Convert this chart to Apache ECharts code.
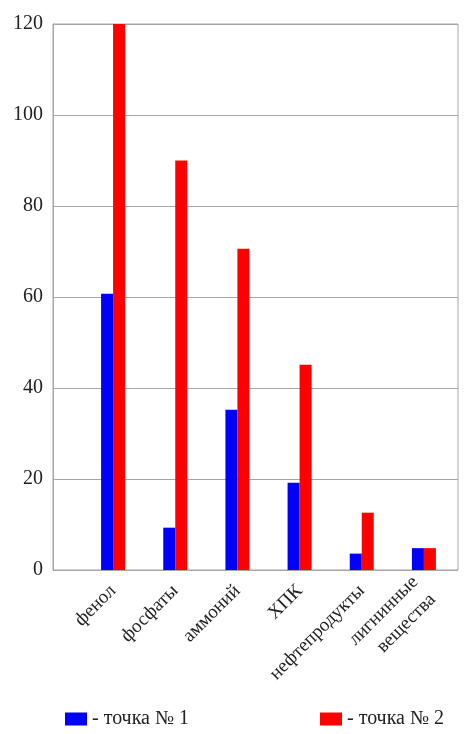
<!DOCTYPE html>
<html>
<head>
<meta charset="utf-8">
<script src="https://cdn.jsdelivr.net/npm/echarts@6/dist/echarts.min.js"></script>
<style>
html,body{margin:0;padding:0;background:#fff;}
#chart{width:475px;height:734px;}
</style>
</head>
<body>
<div id="chart"></div>
<script>
const categories = ['фенол', 'фосфаты', 'аммоний', 'ХПК', 'нефтепродукты', 'лигнинные\nвещества'];
const seriesNames = ['точка № 1', 'точка № 2'];
const point1 = [60.7, 9.3, 35.2, 19.2, 3.6, 4.8];
const point2 = [120, 90, 70.6, 45.1, 12.6, 4.8];
const yTicks = [0, 20, 40, 60, 80, 100, 120];

const FONT = '"Liberation Serif", "DejaVu Serif", serif';
const chart = echarts.init(document.getElementById('chart'));
chart.setOption({
  animation: false,
  backgroundColor: '#fff',
  textStyle: { fontFamily: FONT },
  grid: [
    { left: 53, top: 24, width: 405, height: 546, show: true, borderColor: '#a6a6a6', borderWidth: 1, backgroundColor: 'transparent' },
    { left: 82, top: 24, width: 373, height: 546 }
  ],
  xAxis: [
    { gridIndex: 0, type: 'value', min: 0, max: 1, show: false },
    {
      gridIndex: 1, type: 'category', data: categories,
      axisLine: { show: false }, axisTick: { show: false },
      axisLabel: { rotate: 45, margin: 18, fontSize: 19, color: '#222', fontFamily: FONT, lineHeight: 25, interval: 0 }
    }
  ],
  yAxis: [
    {
      gridIndex: 0, type: 'value', min: yTicks[0], max: yTicks[yTicks.length - 1], interval: 20,
      axisLine: { show: true, lineStyle: { color: '#a6a6a6', width: 1 } },
      axisTick: { show: false },
      splitLine: { show: true, lineStyle: { color: '#a6a6a6', width: 1 } },
      axisLabel: { fontSize: 20, color: '#222', margin: 10, fontFamily: FONT }
    },
    { gridIndex: 1, type: 'value', min: yTicks[0], max: yTicks[yTicks.length - 1], show: false }
  ],
  legend: [
    { data: [seriesNames[0]], left: 60, top: 704, icon: 'rect', itemWidth: 22, itemHeight: 13, itemGap: 0,
      formatter: '- {name}', textStyle: { fontSize: 20, color: '#222', fontFamily: FONT } },
    { data: [seriesNames[1]], left: 315, top: 704, icon: 'rect', itemWidth: 22, itemHeight: 13, itemGap: 0,
      formatter: '- {name}', textStyle: { fontSize: 20, color: '#222', fontFamily: FONT } }
  ],
  series: [
    { name: seriesNames[0], type: 'bar', xAxisIndex: 1, yAxisIndex: 1, data: point1,
      barWidth: 12, barGap: '0%', itemStyle: { color: '#0000ff' } },
    { name: seriesNames[1], type: 'bar', xAxisIndex: 1, yAxisIndex: 1, data: point2,
      barWidth: 12, barGap: '0%', itemStyle: { color: '#ff0000' } }
  ]
});
</script>
</body>
</html>
